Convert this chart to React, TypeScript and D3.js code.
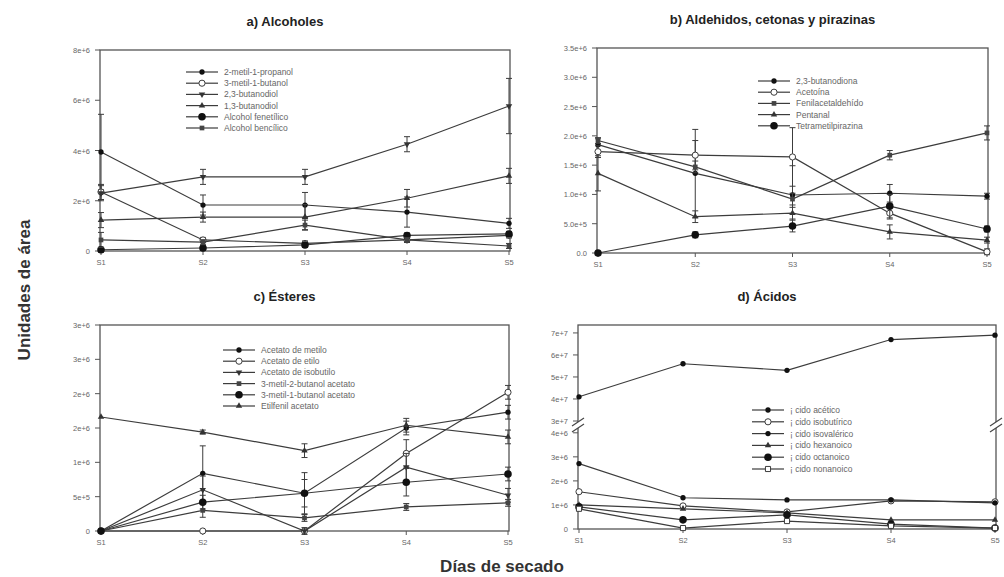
import React, { useEffect, useRef } from 'react';
import * as d3 from 'd3';

const days = ['S1', 'S2', 'S3', 'S4', 'S5'];

// a) Alcoholes
const alcNames = ['2-metil-1-propanol', '3-metil-1-butanol', '2,3-butanodiol', '1,3-butanodiol', 'Alcohol fenetílico', 'Alcohol bencílico'];
const alcValues = [
  [3.94e6, 1.83e6, 1.83e6, 1.55e6, 1.1e6],
  [2.35e6, 0.44e6, 0.3e6, 0.44e6, 0.62e6],
  [2.3e6, 2.95e6, 2.95e6, 4.25e6, 5.77e6],
  [1.23e6, 1.35e6, 1.35e6, 2.1e6, 2.99e6],
  [0.05e6, 0.12e6, 0.24e6, 0.62e6, 0.68e6],
  [0.44e6, 0.35e6, 1.03e6, 0.44e6, 0.2e6],
];
const alcErrors = [
  [1.5e6, 0.4e6, 0.5e6, 0.6e6, 0.2e6],
  [0.3e6, 0.1e6, 0.1e6, 0.1e6, 0.1e6],
  [0.3e6, 0.3e6, 0.3e6, 0.3e6, 1.1e6],
  [0.3e6, 0.2e6, 0.5e6, 0.35e6, 0.3e6],
  [0.1e6, 0.1e6, 0.1e6, 0.1e6, 0.1e6],
  [0.3e6, 0.1e6, 0.2e6, 0.1e6, 0.1e6],
];
const alcTicks = [0, 2e6, 4e6, 6e6, 8e6];
const alcTickLabels = ['0', '2e+6', '4e+6', '6e+6', '8e+6'];

// b) Aldehidos, cetonas y pirazinas
const aldNames = ['2,3-butanodiona', 'Acetoína', 'Fenilacetaldehído', 'Pentanal', 'Tetrametilpirazina'];
const aldValues = [
  [1.85e6, 1.36e6, 0.99e6, 1.02e6, 0.97e6],
  [1.73e6, 1.67e6, 1.64e6, 0.68e6, 0.02e6],
  [1.92e6, 1.47e6, 0.92e6, 1.67e6, 2.05e6],
  [1.36e6, 0.62e6, 0.68e6, 0.36e6, 0.22e6],
  [0.0, 0.31e6, 0.46e6, 0.8e6, 0.41e6],
];
const aldErrors = [
  [0.1e6, 0.75e6, 0.5e6, 0.15e6, 0.05e6],
  [0.1e6, 0.25e6, 0.5e6, 0.1e6, 0.05e6],
  [0.05e6, 0.1e6, 0.1e6, 0.08e6, 0.12e6],
  [0.3e6, 0.1e6, 0.1e6, 0.12e6, 0.05e6],
  [0.0, 0.05e6, 0.1e6, 0.2e6, 0.05e6],
];
const aldTicks = [0, 0.5e6, 1e6, 1.5e6, 2e6, 2.5e6, 3e6, 3.5e6];
const aldTickLabels = ['0.0', '5.0e+5', '1.0e+6', '1.5e+6', '2.0e+6', '2.5e+6', '3.0e+6', '3.5e+6'];

// c) Ésteres
const estNames = ['Acetato de metilo', 'Acetato de etilo', 'Acetato de isobutilo', '3-metil-2-butanol acetato', '3-metil-1-butanol acetato', 'Etilfenil acetato'];
const estValues = [
  [0, 0.84e6, 0.55e6, 1.5e6, 1.73e6],
  [0, 0, 0, 1.13e6, 2.02e6],
  [0, 0.6e6, 0, 0.93e6, 0.52e6],
  [0, 0.3e6, 0.19e6, 0.35e6, 0.41e6],
  [0, 0.42e6, 0.55e6, 0.71e6, 0.83e6],
  [1.66e6, 1.44e6, 1.17e6, 1.54e6, 1.37e6],
];
const estErrors = [
  [0, 0.4e6, 0.3e6, 0.1e6, 0.1e6],
  [0, 0, 0, 0.2e6, 0.1e6],
  [0, 0.2e6, 0.05e6, 0.2e6, 0.1e6],
  [0, 0.1e6, 0.05e6, 0.05e6, 0.05e6],
  [0, 0.1e6, 0.2e6, 0.2e6, 0.1e6],
  [0, 0.03e6, 0.1e6, 0.1e6, 0.1e6],
];
const estTicks = [0, 0.5e6, 1e6, 1.5e6, 2e6, 2.5e6, 3e6];
const estTickLabels = ['0', '5e+5', '1e+6', '2e+6', '2e+6', '3e+6', '3e+6'];

// d) Ácidos (eje partido)
const acidNames = ['¡ cido acético', '¡ cido isobutírico', '¡ cido isovalérico', '¡ cido hexanoico', '¡ cido octanoico', '¡ cido nonanoico'];
const acidValues = [
  [4.1e7, 5.6e7, 5.3e7, 6.7e7, 6.9e7],
  [1.55e6, 0.96e6, 0.71e6, 1.17e6, 1.13e6],
  [2.72e6, 1.3e6, 1.21e6, 1.21e6, 1.09e6],
  [1.0e6, 0.84e6, 0.67e6, 0.38e6, 0.38e6],
  [0.92e6, 0.38e6, 0.59e6, 0.2e6, 0.04e6],
  [0.84e6, 0.04e6, 0.33e6, 0.13e6, 0.04e6],
];
const acidTicks = [0, 1e6, 2e6, 3e6, 4e6, 3e7, 4e7, 5e7, 6e7, 7e7];
const acidTickLabels = ['0', '1e+6', '2e+6', '3e+6', '4e+6', '3e+7', '4e+7', '5e+7', '6e+7', '7e+7'];

const INK = '#3c3c3c';

type Marker = 'dot' | 'open' | 'tri' | 'triDown' | 'big' | 'square' | 'openSquare';

interface PanelCfg {
  title: string;
  left: number; top: number; right: number; bottom: number;
  y: d3.ScaleLinear<number, number>;
  ticks: number[]; tickLabels: string[];
  names: string[]; values: number[][]; errors?: number[][];
  markers: Marker[];
  legendX: number; legendY: number; legendStep: number;
  broken?: number;
}

function drawMarker(g: any, kind: Marker, x: number, y: number) {
  const sym = (type: any, size: number) => d3.symbol().type(type).size(size)();
  const p = g.append('path').attr('transform', `translate(${x},${y})`);
  if (kind === 'dot') p.attr('d', sym(d3.symbolCircle, 22)).attr('fill', '#111');
  else if (kind === 'big') p.attr('d', sym(d3.symbolCircle, 45)).attr('fill', '#111');
  else if (kind === 'open') p.attr('d', sym(d3.symbolCircle, 30)).attr('fill', '#fff').attr('stroke', INK).attr('stroke-width', 1);
  else if (kind === 'tri') p.attr('d', sym(d3.symbolTriangle, 18)).attr('fill', '#333');
  else if (kind === 'triDown') p.attr('d', sym(d3.symbolTriangle, 18)).attr('fill', '#333').attr('transform', `translate(${x},${y}) rotate(180)`);
  else if (kind === 'square') p.attr('d', sym(d3.symbolSquare, 22)).attr('fill', '#444');
  else p.attr('d', sym(d3.symbolSquare, 26)).attr('fill', '#fff').attr('stroke', INK);
}

function drawPanel(svg: any, c: PanelCfg) {
  const x = d3.scalePoint<string>().domain(days).range([c.left + 1, c.right - 1]);
  const g = svg.append('g');

  g.append('text')
    .attr('x', (c.left + c.right) / 2 - 20)
    .attr('y', c.top - 24)
    .attr('text-anchor', 'middle')
    .attr('font-family', 'Liberation Sans, Arial, sans-serif')
    .attr('font-weight', 'bold')
    .attr('font-size', 13)
    .attr('fill', '#222')
    .text(c.title);

  g.append('rect')
    .attr('x', c.left).attr('y', c.top)
    .attr('width', c.right - c.left).attr('height', c.bottom - c.top)
    .attr('fill', '#fff').attr('stroke', '#555').attr('stroke-width', 1.3);

  // y ticks
  c.ticks.forEach((t, i) => {
    const yy = c.y(t);
    g.append('line').attr('x1', c.left - 5).attr('x2', c.left).attr('y1', yy).attr('y2', yy)
      .attr('stroke', '#555');
    g.append('text').attr('x', c.left - 10).attr('y', yy + 3)
      .attr('text-anchor', 'end').attr('font-size', 7.5)
      .attr('font-family', 'Liberation Sans, Arial, sans-serif').attr('fill', '#666')
      .text(c.tickLabels[i]);
  });

  // x ticks
  days.forEach(d => {
    g.append('line').attr('x1', x(d)).attr('x2', x(d)).attr('y1', c.bottom).attr('y2', c.bottom + 4)
      .attr('stroke', '#555');
    g.append('text').attr('x', x(d)).attr('y', c.bottom + 14)
      .attr('text-anchor', 'middle').attr('font-size', 7.5)
      .attr('font-family', 'Liberation Sans, Arial, sans-serif').attr('fill', '#666')
      .text(d);
  });

  // broken axis marks
  if (c.broken !== undefined) {
    [c.left, c.right].forEach(bx => {
      g.append('rect').attr('x', bx - 6).attr('y', c.broken! - 3).attr('width', 12).attr('height', 6).attr('fill', '#fff');
      [-3, 3].forEach(o => {
        g.append('line').attr('x1', bx - 6).attr('x2', bx + 6)
          .attr('y1', c.broken! + o + 4).attr('y2', c.broken! + o - 4)
          .attr('stroke', '#444').attr('stroke-width', 1.2);
      });
    });
  }

  const line = d3.line<number>().x((_, i) => x(days[i])!).y(v => c.y(v));

  c.values.forEach((vals, s) => {
    g.append('path').datum(vals).attr('d', line)
      .attr('fill', 'none').attr('stroke', INK).attr('stroke-width', 1.2);
    if (c.errors) {
      vals.forEach((v, i) => {
        const e = c.errors![s][i];
        if (!e) return;
        const xx = x(days[i])!;
        const y1 = c.y(v - e), y2 = c.y(v + e);
        g.append('line').attr('x1', xx).attr('x2', xx).attr('y1', y1).attr('y2', y2).attr('stroke', INK);
        [y1, y2].forEach(yy => g.append('line').attr('x1', xx - 3).attr('x2', xx + 3)
          .attr('y1', yy).attr('y2', yy).attr('stroke', INK));
      });
    }
    vals.forEach((v, i) => drawMarker(g, c.markers[s], x(days[i])!, c.y(v)));
  });

  // legend
  c.names.forEach((n, i) => {
    const ly = c.legendY + i * c.legendStep;
    g.append('line').attr('x1', c.legendX).attr('x2', c.legendX + 32).attr('y1', ly).attr('y2', ly)
      .attr('stroke', INK).attr('stroke-width', 1.2);
    drawMarker(g, c.markers[i], c.legendX + 16, ly);
    g.append('text').attr('x', c.legendX + 38).attr('y', ly + 3)
      .attr('font-size', 8.5).attr('font-family', 'Liberation Sans, Arial, sans-serif')
      .attr('fill', '#666').text(n);
  });
}

const App = () => {
  const svgRef = useRef<SVGSVGElement>(null);

  useEffect(() => {
    if (!svgRef.current) return;
    const svg = d3.select(svgRef.current);
    svg.selectAll('*').remove();

    svg.append('rect').attr('width', 1004).attr('height', 577).attr('fill', '#fff');

    drawPanel(svg, {
      title: 'a) Alcoholes', left: 100, top: 50, right: 510, bottom: 251,
      y: d3.scaleLinear().domain([0, 8e6]).range([251, 50]),
      ticks: alcTicks, tickLabels: alcTickLabels,
      names: alcNames, values: alcValues, errors: alcErrors,
      markers: ['dot', 'open', 'triDown', 'tri', 'big', 'square'],
      legendX: 186, legendY: 72, legendStep: 11.2,
    });

    drawPanel(svg, {
      title: 'b) Aldehidos, cetonas y pirazinas', left: 597, top: 48, right: 988, bottom: 253,
      y: d3.scaleLinear().domain([0, 3.5e6]).range([253, 48]),
      ticks: aldTicks, tickLabels: aldTickLabels,
      names: aldNames, values: aldValues, errors: aldErrors,
      markers: ['dot', 'open', 'square', 'tri', 'big'],
      legendX: 758, legendY: 81, legendStep: 11.2,
    });

    drawPanel(svg, {
      title: 'c) Ésteres', left: 100, top: 325, right: 509, bottom: 531,
      y: d3.scaleLinear().domain([0, 3e6]).range([531, 325]),
      ticks: estTicks, tickLabels: estTickLabels,
      names: estNames, values: estValues, errors: estErrors,
      markers: ['dot', 'open', 'triDown', 'square', 'big', 'tri'],
      legendX: 223, legendY: 350, legendStep: 11.2,
    });

    drawPanel(svg, {
      title: 'd) Ácidos', left: 578, top: 325, right: 996, bottom: 529,
      y: d3.scaleLinear().domain([0, 4.2e6, 3e7, 7.36e7]).range([529, 428, 421, 325]),
      ticks: acidTicks, tickLabels: acidTickLabels,
      names: acidNames, values: acidValues,
      markers: ['dot', 'open', 'dot', 'tri', 'big', 'openSquare'],
      legendX: 752, legendY: 410, legendStep: 11.8,
      broken: 425,
    });

    svg.append('text')
      .attr('transform', 'translate(30,290) rotate(-90)')
      .attr('text-anchor', 'middle')
      .attr('font-family', 'Liberation Sans, Arial, sans-serif')
      .attr('font-weight', 'bold').attr('font-size', 17).attr('fill', '#333')
      .text('Unidades de área');

    svg.append('text')
      .attr('x', 502).attr('y', 572)
      .attr('text-anchor', 'middle')
      .attr('font-family', 'Liberation Sans, Arial, sans-serif')
      .attr('font-weight', 'bold').attr('font-size', 17).attr('fill', '#333')
      .text('Días de secado');
  }, []);

  return (
    <svg ref={svgRef} width={1004} height={577} style={{ position: 'absolute', left: 0, top: 0 }} />
  );
};

export default App;
